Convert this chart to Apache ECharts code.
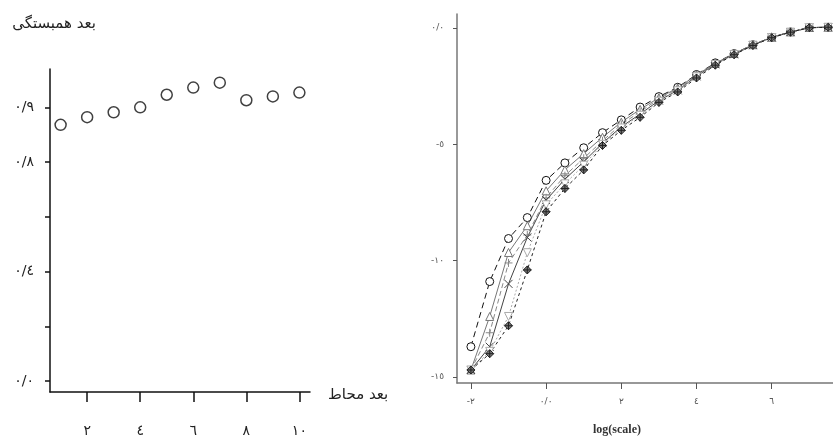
<!DOCTYPE html>
<html>
<head>
<meta charset="utf-8">
<script src="https://cdn.jsdelivr.net/npm/echarts@6/dist/echarts.min.js"></script>
<style>
  html, body { margin: 0; padding: 0; background: #fff; }
  #chart { width: 833px; height: 438px; }
</style>
</head>
<body>
<div id="chart"></div>
<script>
// left panel: correlation dimension vs embedding dimension
const embedDims = [1, 2, 3, 4, 5, 6, 7, 8, 9, 10]
const corrDims = [0.868, 0.882, 0.891, 0.900, 0.923, 0.936, 0.945, 0.913, 0.920, 0.927]
const leftXTicks = [2, 4, 6, 8, 10]
const leftXLabels = ['٢', '٤', '٦', '٨', '١٠']
const leftYTicks = [0.4, 0.5, 0.6, 0.7, 0.8, 0.9]
const leftYLabels = ['٠/٠', '', '٠/٤', '', '٠/٨', '٠/٩']

// right panel: log C(r) vs log(scale), one curve per embedding dimension
const logScale = [-2, -1.5, -1, -0.5, 0, 0.5, 1, 1.5, 2, 2.5, 3, 3.5, 4, 4.5, 5, 5.5, 6, 6.5, 7, 7.5]
const curveCircle = [-13.7, -10.9, -9.05, -8.15, -6.55, -5.8, -5.15, -4.5, -3.95, -3.4, -2.95, -2.55, -2.0, -1.5, -1.1, -0.72, -0.4, -0.17, 0.02, 0.03]
const curveTriUp = [-14.7, -12.4, -9.65, -8.5, -7.0, -6.1, -5.4, -4.7, -4.05, -3.5, -3.0, -2.58, -2.02, -1.52, -1.1, -0.72, -0.4, -0.17, 0.02, 0.03]
const curvePlus = [-14.7, -13.1, -10.1, -8.9, -7.3, -6.35, -5.6, -4.85, -4.15, -3.6, -3.05, -2.62, -2.05, -1.54, -1.12, -0.73, -0.41, -0.18, 0.01, 0.03]
const curveCross = [-14.7, -13.7, -11.0, -9.0, -7.4, -6.5, -5.75, -4.95, -4.25, -3.7, -3.12, -2.68, -2.08, -1.56, -1.13, -0.74, -0.41, -0.18, 0.01, 0.03]
const curveTriDown = [-14.7, -13.9, -12.4, -9.66, -7.6, -6.7, -5.9, -5.0, -4.3, -3.75, -3.15, -2.7, -2.1, -1.57, -1.14, -0.74, -0.42, -0.18, 0.01, 0.03]
const curveDiamond = [-14.7, -14.0, -12.8, -10.4, -7.9, -6.9, -6.1, -5.05, -4.4, -3.84, -3.2, -2.75, -2.15, -1.6, -1.15, -0.75, -0.42, -0.18, 0.01, 0.03]
const rightXTicks = [-2, 0, 2, 4, 6]
const rightXLabels = ['-٢', '٠/٠', '٢', '٤', '٦']
const rightYTicks = [0, -5, -10, -15]
const rightYLabels = ['٠/٠', '-٥', '-١٠', '-١٥']

const arabicFont = '"DejaVu Sans", sans-serif'

function labelOf(ticks, labels) {
  return (v) => {
    const i = ticks.findIndex(t => Math.abs(t - v) < 1e-6)
    return i < 0 ? '' : labels[i]
  }
}

function curve(name, data, symbol, color, lineType, fill) {
  return {
    name,
    type: 'line',
    xAxisIndex: 1,
    yAxisIndex: 1,
    data: logScale.map((x, i) => [x, data[i]]),
    symbol,
    symbolSize: 8,
    showSymbol: true,
    lineStyle: { color, width: 1, type: lineType },
    itemStyle: { color: fill || '#fff', borderColor: color, borderWidth: 1 },
    z: 3,
  }
}

const chart = echarts.init(document.getElementById('chart'))

chart.setOption({
  backgroundColor: '#ffffff',
  animation: false,
  grid: [
    { left: 50, top: 69, width: 260, height: 329 },
    { left: 457, top: 14, width: 380, height: 369 },
  ],
  xAxis: [
    {
      gridIndex: 0,
      type: 'value',
      min: 0.6,
      max: 10.4,
      axisLine: { onZero: false, lineStyle: { color: '#111', width: 1.5 } },
      axisTick: { show: true, length: 10, lineStyle: { color: '#111', width: 1.5 }, customValues: leftXTicks },
      axisLabel: { customValues: leftXTicks, formatter: labelOf(leftXTicks, leftXLabels), color: '#222', fontSize: 14, margin: 32, fontFamily: arabicFont },
      splitLine: { show: false },
    },
    {
      gridIndex: 1,
      type: 'value',
      min: -2.37,
      max: 7.63,
      axisLine: { onZero: false, lineStyle: { color: '#777', width: 1.5 } },
      axisTick: { show: true, length: 6, lineStyle: { color: '#555' }, customValues: rightXTicks },
      axisLabel: { customValues: rightXTicks, formatter: labelOf(rightXTicks, rightXLabels), color: '#555', fontSize: 9, margin: 14, fontFamily: arabicFont },
      splitLine: { show: false },
    },
  ],
  yAxis: [
    {
      gridIndex: 0,
      type: 'value',
      min: 0.3803,
      max: 0.97,
      axisLine: { show: true, onZero: false, lineStyle: { color: '#111', width: 1.5 } },
      axisTick: { show: true, length: 5, lineStyle: { color: '#111', width: 1.5 }, customValues: leftYTicks },
      axisLabel: { customValues: leftYTicks.filter((t, i) => leftYLabels[i]), formatter: labelOf(leftYTicks, leftYLabels), color: '#222', fontSize: 14, margin: 16, fontFamily: arabicFont },
      splitLine: { show: false },
    },
    {
      gridIndex: 1,
      type: 'value',
      min: -15.26,
      max: 0.6,
      axisLine: { show: true, onZero: false, lineStyle: { color: '#777', width: 1.5 } },
      axisTick: { show: true, length: 4, lineStyle: { color: '#555' }, customValues: rightYTicks },
      axisLabel: { customValues: rightYTicks, formatter: labelOf(rightYTicks, rightYLabels), color: '#555', fontSize: 9, margin: 13, fontFamily: arabicFont },
      splitLine: { show: false },
    },
  ],
  graphic: [
    { type: 'text', right: 833 - 96, top: 17, style: { text: 'بعد همبستگی', font: '15px "DejaVu Sans", sans-serif', fill: '#222' } },
    { type: 'text', left: 328, top: 388, style: { text: 'بعد محاط', font: '15px "DejaVu Sans", sans-serif', fill: '#222' } },
    { type: 'text', left: 593, top: 424, style: { text: 'log(scale)', font: 'bold 12px "Liberation Serif", serif', fill: '#333' } },
  ],
  series: [
    {
      name: 'corr',
      type: 'scatter',
      xAxisIndex: 0,
      yAxisIndex: 0,
      data: embedDims.map((x, i) => [x, corrDims[i]]),
      symbol: 'circle',
      symbolSize: 11,
      itemStyle: { color: '#fff', borderColor: '#111', borderWidth: 1.5 },
    },
    curve('m1', curveCircle, 'circle', '#111', [6, 4]),
    curve('m2', curveTriUp, 'triangle', '#777', 'solid'),
    curve('m3', curvePlus, 'path://M5,0 L5,10 M0,5 L10,5', '#888', [5, 3]),
    curve('m4', curveCross, 'path://M0,0 L10,10 M10,0 L0,10', '#444', 'solid'),
    curve('m5', curveTriDown, 'path://M0,0 L10,0 L5,9 Z', '#aaa', [2, 2]),
    curve('m6', curveDiamond, 'path://M5,0 L10,5 L5,10 L0,5 Z M5,0 L5,10 M0,5 L10,5', '#222', [3, 3], '#777'),
  ],
})
</script>
</body>
</html>
